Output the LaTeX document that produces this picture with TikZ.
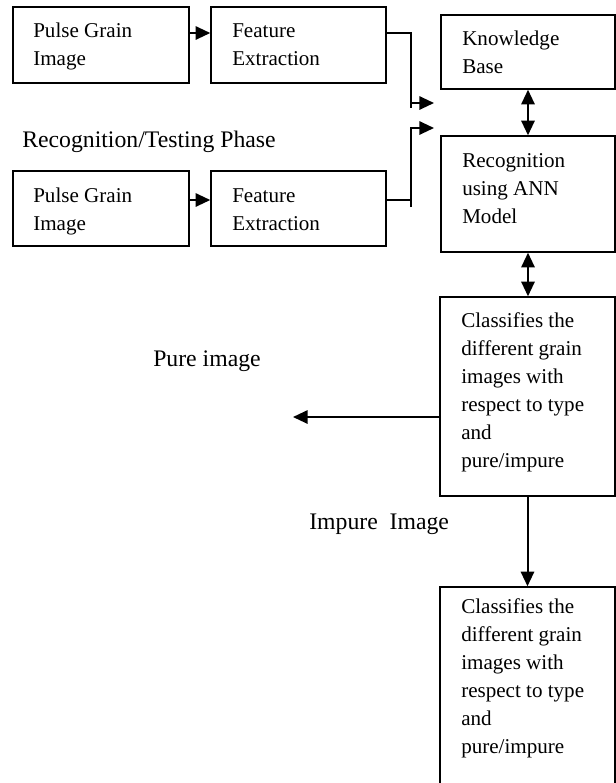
\documentclass[tikz,border=0pt]{standalone}
\usepackage{fontspec}
\setmainfont{Liberation Serif}
\usetikzlibrary{arrows.meta}
\tikzset{
  box/.style={draw, line width=1.1pt, inner sep=0pt},
  txt/.style={anchor=base west, inner sep=0pt, align=left,
    font=\fontsize{17.8}{21}\selectfont},
  boxtxt/.style={txt, font=\fontsize{15.8}{21}\selectfont},
  conn/.style={line width=1.5pt},
  tip/.style={conn, -{Triangle[length=11pt,width=10pt]}},
  tips/.style={conn, {Triangle[length=11pt,width=10pt]}-{Triangle[length=11pt,width=10pt]}}
}
\begin{document}
\begin{tikzpicture}[x=0.75pt,y=-0.75pt]
\clip (0,0) rectangle (616,783);

% training branch (text nodes are placed by the baseline of their last line)
\node[box, minimum width=132pt, minimum height=57pt] (img1) at (101,45) {};
\node[box, minimum width=131.25pt, minimum height=57pt] (fe1) at (298.5,45) {};
\node[boxtxt] (img1t) at (33,65) {Pulse Grain\\Image};
\node[boxtxt] (fe1t) at (232,65) {Feature\\Extraction};

\node[txt] (phase) at (22,147) {Recognition/Testing Phase};

% testing branch
\node[box, minimum width=132pt, minimum height=56.25pt] (img2) at (101,208.5) {};
\node[box, minimum width=131.25pt, minimum height=56.25pt] (fe2) at (298.5,208.5) {};
\node[boxtxt] (img2t) at (33,230) {Pulse Grain\\Image};
\node[boxtxt] (fe2t) at (232,230) {Feature\\Extraction};

% right column
\node[box, minimum width=130.5pt, minimum height=55.5pt] (kb) at (528,52) {};
\node[boxtxt] (kbt) at (462,73) {Knowledge\\Base};
\node[box, minimum width=130.5pt, minimum height=87pt] (ann) at (528,194) {};
\node[boxtxt] (annt) at (462,223) {Recognition\\using ANN\\Model};
\node[box, minimum width=131.25pt, minimum height=149.25pt] (cls1) at (527.5,396.5) {};
\node[boxtxt] (cls1t) at (461,467) {Classifies the\\different grain\\images with\\respect to type\\and\\pure/impure};
\node[box, minimum width=131.25pt, minimum height=159.75pt] (cls2) at (527.5,693.5) {};
\node[boxtxt] (cls2t) at (461,753) {Classifies the\\different grain\\images with\\respect to type\\and\\pure/impure};

\node[txt] (pure) at (153,366) {Pure image};
\node[txt] (impure) at (309,529) {Impure\ \ Image};

% connectors
\draw[tip] (img1.east |- 0,33) -- (fe1.west |- 0,33);
\draw[tip] (img2.east |- 0,200) -- (fe2.west |- 0,200);

\coordinate (j1top) at (411,108);
\coordinate (j1) at (411,103);
\coordinate (a1) at (434,103);
\coordinate (j2bot) at (411,207);
\coordinate (a2) at (434,128);
\draw[conn] (fe1.east |- 0,33) -| (j1top);
\draw[tip] (j1) -- (a1);
\draw[conn] (fe2.east |- 0,200) -- (j2bot |- 0,200);
\draw[tip] (j2bot) |- (a2);

\draw[tips] (kb.south) -- (ann.north);
\draw[tips] (ann.south) -- (ann.south |- cls1.north);
\coordinate (pureend) at (293,417);
\draw[tip] (cls1.west |- pureend) -- (pureend);
\draw[tip] (cls1.south) -- (cls1.south |- cls2.north);
\end{tikzpicture}
\end{document}
